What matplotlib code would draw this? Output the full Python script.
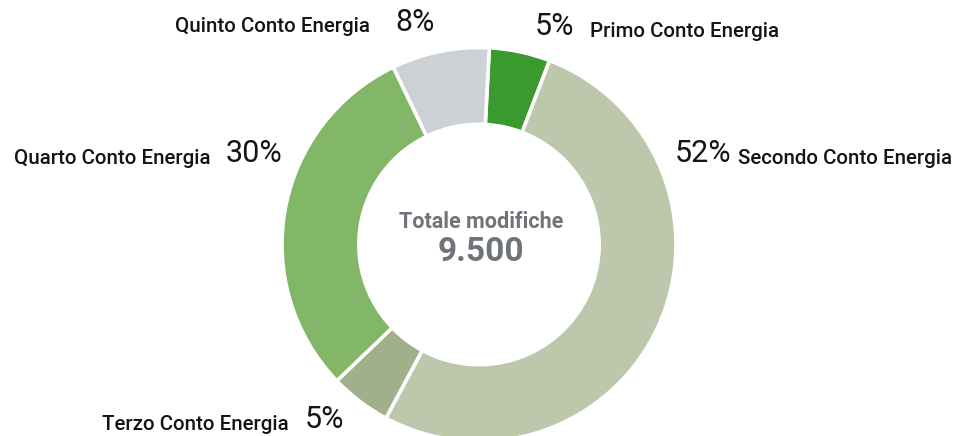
import matplotlib
matplotlib.use("Agg")
import matplotlib.pyplot as plt

categories = ["Primo Conto Energia", "Secondo Conto Energia", "Terzo Conto Energia",
              "Quarto Conto Energia", "Quinto Conto Energia"]
shares = [5, 52, 5, 30, 8]
pct_labels = ["5%", "52%", "5%", "30%", "8%"]
colors = ["#3a9a2e", "#bdc7ac", "#9fb08a", "#82b767", "#ccd1d5"]
center_title = "Totale modifiche"
center_value = "9.500"

W, H = 958, 436
fig = plt.figure(figsize=(W / 100, H / 100), dpi=100)
ax = fig.add_axes([0, 0, 1, 1])

cx, cy, R = 479, H - 244.5, 197
ax.pie(shares, colors=colors, startangle=87, counterclock=False,
       center=(cx, cy), radius=R,
       wedgeprops=dict(width=R * 0.39, edgecolor="white", linewidth=2.6))
ax.set_xlim(0, W)
ax.set_ylim(0, H)
ax.set_aspect("equal")
ax.axis("off")

font = "Roboto"
lab_fs = 14.8
pct_fs = 22
ink = "#141414"
lab_wt = "medium"
pct_wt = "normal"

def img(y):
    return H - y

# Primo: pct then label
ax.text(535, img(27), pct_labels[0], fontsize=pct_fs, family=font, weight=pct_wt, color=ink, ha="left", va="center")
ax.text(590, img(32), categories[0], fontsize=lab_fs, family=font, weight=lab_wt, color=ink, ha="left", va="center")
# Secondo
ax.text(675, img(154), pct_labels[1], fontsize=pct_fs, family=font, weight=pct_wt, color=ink, ha="left", va="center")
ax.text(738, img(158), categories[1], fontsize=lab_fs, family=font, weight=lab_wt, color=ink, ha="left", va="center")
# Terzo: label then pct
ax.text(289, img(424), categories[2], fontsize=lab_fs, family=font, weight=lab_wt, color=ink, ha="right", va="center")
ax.text(305, img(419), pct_labels[2], fontsize=pct_fs, family=font, weight=pct_wt, color=ink, ha="left", va="center")
# Quarto
ax.text(211, img(158), categories[3], fontsize=lab_fs, family=font, weight=lab_wt, color=ink, ha="right", va="center")
ax.text(226, img(154), pct_labels[3], fontsize=pct_fs, family=font, weight=pct_wt, color=ink, ha="left", va="center")
# Quinto
ax.text(370, img(27), categories[4], fontsize=lab_fs, family=font, weight=lab_wt, color=ink, ha="right", va="center")
ax.text(395, img(23), pct_labels[4], fontsize=pct_fs, family=font, weight=pct_wt, color=ink, ha="left", va="center")

gray = "#6e7479"
ax.text(cx + 2, img(222), center_title, fontsize=15.5, family=font, weight="bold", color=gray, ha="center", va="center")
ax.text(cx + 2, img(252), center_value, fontsize=24, family=font, weight="bold", color=gray, ha="center", va="center")

fig.savefig("out.png", dpi=100)
